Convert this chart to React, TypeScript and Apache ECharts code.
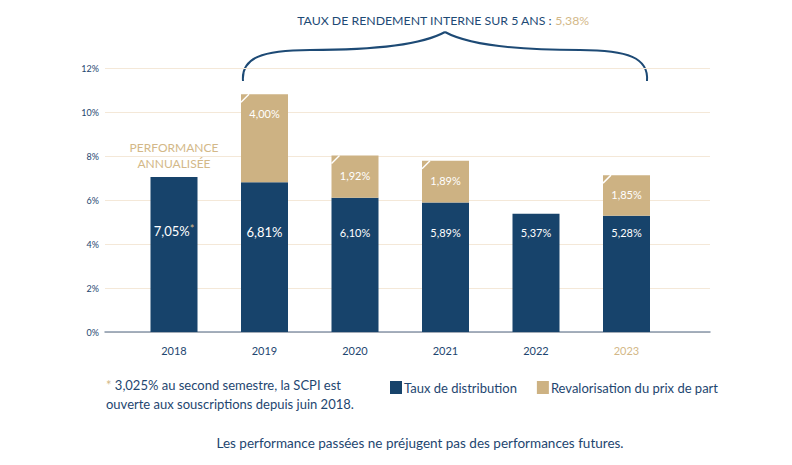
import React, { useEffect, useRef } from "react";
import * as echarts from "echarts";

const years = ["2018", "2019", "2020", "2021", "2022", "2023"];
const distribution = [7.05, 6.81, 6.1, 5.89, 5.37, 5.28];
const revalorisation: (number | null)[] = [0, 4.0, 1.92, 1.89, null, 1.85];
const yMin = 0;
const yMax = 12;
const yInterval = 2;
const irr5y = 5.38;
const title = "TAUX DE RENDEMENT INTERNE SUR 5 ANS : ";
const annualisedNote = "PERFORMANCE\nANNUALISÉE";
const footnote = ["3,025% au second semestre, la SCPI est", "ouverte aux souscriptions depuis juin 2018."];
const disclaimer = "Les performance passées ne préjugent pas des performances futures.";
const legendNames = ["Taux de distribution", "Revalorisation du prix de part"];

const NAVY = "#17436b";
const GOLD = "#cdb283";
const TXT = "#1e4670";
const GOLD_TXT = "#d3b888";
const FONT = "Lato";

const fmt = (v: number) => v.toFixed(2).replace(".", ",") + "%";

export default function App() {
  const ref = useRef<HTMLDivElement>(null);
  useEffect(() => {
    if (!ref.current) return;
    const chart = echarts.init(ref.current, undefined, { renderer: "svg" });
    const top = 68;
    const bottom = 133;
    const barW = 47;

    const distData = distribution.map((v, i) => {
      const big = i < 2;
      const item: any = { value: v, label: { fontSize: big ? 13 : 11 } };
      if (i === 0) {
        item.label.formatter = "{a|" + fmt(v) + "}{s|*}";
        item.label.rich = {
          a: { color: "#fff", fontSize: 13, fontFamily: FONT },
          s: { color: GOLD_TXT, fontSize: 11, fontFamily: FONT, verticalAlign: "top", padding: [0, 0, 4, 0] },
        };
      }
      return item;
    });

    const revData = revalorisation.map((v, i) => {
      if (v === null) return "-";
      if (i === 0) {
        return {
          value: v,
          label: {
            show: true,
            position: "top",
            distance: 5,
            color: GOLD_TXT,
            fontSize: 12,
            lineHeight: 16,
            formatter: annualisedNote,
          },
        };
      }
      return { value: v };
    });

    const notchData: number[][] = [];
    revalorisation.forEach((v, i) => {
      if (v !== null && v > 0) notchData.push([i, distribution[i] + v]);
    });

    chart.setOption({
      animation: false,
      textStyle: { fontFamily: FONT },
      grid: [
        { left: 105, right: 82, top, bottom },
        { left: 128.75, width: 543, top, bottom },
      ],
      xAxis: [
        {
          gridIndex: 0,
          type: "value",
          min: 0,
          max: 1,
          axisLine: { show: true, onZero: false, lineStyle: { color: "#8796ab", width: 1.5 } },
          axisTick: { show: false },
          axisLabel: { show: false },
          splitLine: { show: false },
        },
        {
          gridIndex: 1,
          type: "category",
          data: years,
          axisLine: { show: false },
          axisTick: { show: false },
          axisLabel: {
            margin: 13,
            fontSize: 11,
            fontFamily: FONT,
            color: (val: string, idx: number) => (idx === years.length - 1 ? GOLD_TXT : TXT),
          },
        },
      ],
      yAxis: [
        {
          gridIndex: 0,
          type: "value",
          min: yMin,
          max: yMax,
          interval: yInterval,
          axisLine: { show: false },
          axisTick: { show: false },
          axisLabel: { formatter: "{value}%", color: TXT, fontSize: 9, margin: 6, fontFamily: FONT },
          splitLine: { lineStyle: { color: "#f4e8d8", width: 1 } },
        },
        {
          gridIndex: 1,
          type: "value",
          min: yMin,
          max: yMax,
          interval: yInterval,
          show: false,
        },
      ],
      legend: {
        left: 385,
        top: 376,
        itemWidth: 12,
        itemHeight: 13,
        itemGap: 20,
        icon: "rect",
        data: legendNames,
        textStyle: { color: TXT, fontSize: 13, fontFamily: FONT, padding: [0, 0, 0, -3] },
      },
      series: [
        {
          name: legendNames[0],
          type: "bar",
          stack: "a",
          xAxisIndex: 1,
          yAxisIndex: 1,
          barWidth: barW,
          itemStyle: { color: NAVY },
          label: {
            show: true,
            position: "insideBottom",
            distance: 94,
            color: "#fff",
            fontFamily: FONT,
            formatter: (p: any) => fmt(p.value),
          },
          data: distData,
        },
        {
          name: legendNames[1],
          type: "bar",
          stack: "a",
          xAxisIndex: 1,
          yAxisIndex: 1,
          barWidth: barW,
          itemStyle: { color: GOLD },
          label: {
            show: true,
            position: "insideTop",
            distance: 14,
            color: "#fff",
            fontSize: 11,
            fontFamily: FONT,
            formatter: (p: any) => fmt(p.value),
          },
          data: revData,
        },
        {
          type: "custom",
          xAxisIndex: 1,
          yAxisIndex: 1,
          z: 10,
          silent: true,
          data: notchData,
          renderItem: (params: any, api: any) => {
            const p = api.coord([api.value(0), api.value(1)]);
            const left = p[0] - barW / 2;
            return {
              type: "line",
              shape: { x1: left, y1: p[1] + 8, x2: left + 8, y2: p[1] },
              style: { stroke: "#fff", lineWidth: 1.5 },
            };
          },
        },
      ],
      graphic: [
        {
          type: "text",
          x: 443,
          y: 20,
          style: {
            text: "{a|" + title + "}{b|" + irr5y.toFixed(2).replace(".", ",") + "%}",
            align: "center",
            verticalAlign: "middle",
            rich: {
              a: { fill: "#1d4a75", fontSize: 12.3, fontFamily: FONT },
              b: { fill: GOLD_TXT, fontSize: 12.3, fontFamily: FONT },
            },
          },
        },
        {
          type: "bezierCurve",
          shape: { x1: 243, y1: 81, cpx1: 241, cpy1: 58, cpx2: 262, cpy2: 50, x2: 310, y2: 50 },
          style: { stroke: "#1d4a75", lineWidth: 2, fill: "none" },
        },
        {
          type: "bezierCurve",
          shape: { x1: 310, y1: 50, cpx1: 385, cpy1: 50, cpx2: 425, cpy2: 43, x2: 445, y2: 32 },
          style: { stroke: "#1d4a75", lineWidth: 2, fill: "none" },
        },
        {
          type: "bezierCurve",
          shape: { x1: 647, y1: 81, cpx1: 649, cpy1: 58, cpx2: 628, cpy2: 50, x2: 580, y2: 50 },
          style: { stroke: "#1d4a75", lineWidth: 2, fill: "none" },
        },
        {
          type: "bezierCurve",
          shape: { x1: 580, y1: 50, cpx1: 505, cpy1: 50, cpx2: 465, cpy2: 43, x2: 445, y2: 32 },
          style: { stroke: "#1d4a75", lineWidth: 2, fill: "none" },
        },
        {
          type: "text",
          x: 106,
          y: 375,
          style: {
            text: "{g|*} {t|" + footnote[0] + "}\n{t|" + footnote[1] + "}",
            rich: {
              g: { fill: GOLD_TXT, fontSize: 13, fontFamily: FONT, lineHeight: 19 },
              t: { fill: TXT, fontSize: 13, fontFamily: FONT, lineHeight: 19 },
            },
          },
        },
        {
          type: "text",
          x: 420,
          y: 443,
          style: {
            text: disclaimer,
            fill: TXT,
            fontSize: 13.5,
            fontFamily: FONT,
            align: "center",
            verticalAlign: "middle",
          },
        },
      ],
    });
    return () => chart.dispose();
  }, []);
  return <div ref={ref} style={{ position: "absolute", left: 0, top: 0, width: 792, height: 465 }} />;
}
